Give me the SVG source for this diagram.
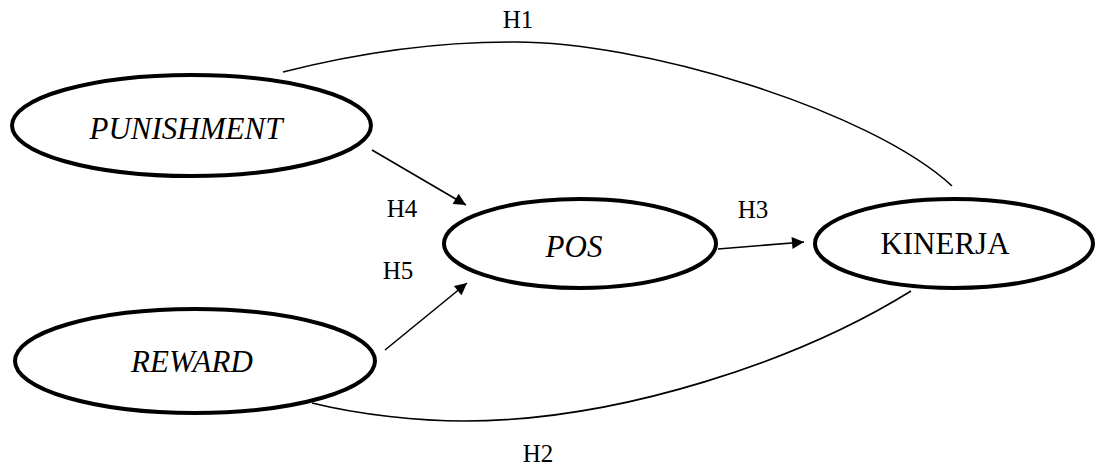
<svg xmlns="http://www.w3.org/2000/svg" width="1097" height="474" viewBox="0 0 1097 474">
  <style>
    .node { fill: #ffffff; stroke: #000000; stroke-width: 4; }
    text { font-family: "Times New Roman", Times, "Liberation Serif", Tinos, "Noto Serif", "DejaVu Serif", serif; fill: #000000; text-anchor: middle; }
    .lbl { font-size: 31px; }
    .it { font-style: italic; }
    .hyp { font-size: 25px; }
    .edge { fill: none; stroke: #000000; stroke-width: 1.6; }
  </style>
  <defs>
    <marker id="arrow" viewBox="0 0 10 10" refX="10" refY="5" markerWidth="15" markerHeight="12" markerUnits="userSpaceOnUse" orient="auto">
      <path d="M0,0 L10,5 L0,10 Z" fill="#000000"/>
    </marker>
  </defs>
  <rect width="1097" height="474" fill="#ffffff"/>

  <!-- connectors -->
  <g id="connectors">
    <!-- H1: PUNISHMENT to KINERJA -->
    <path class="edge" d="M283,72 C350,55 430,42 510,42 C640,40 870,110 952,186"/>
    <!-- H2: REWARD to KINERJA -->
    <path class="edge" d="M312,403 C360,415 420,421 464,421 C620,421 800,360 911,291"/>
    <!-- H4: PUNISHMENT to POS -->
    <line class="edge" x1="372" y1="150" x2="466" y2="205" marker-end="url(#arrow)"/>
    <!-- H5: REWARD to POS -->
    <line class="edge" x1="385" y1="350" x2="467" y2="283" marker-end="url(#arrow)"/>
    <!-- H3: POS to KINERJA -->
    <line class="edge" x1="718" y1="249" x2="804" y2="242" marker-end="url(#arrow)"/>
  </g>

  <g id="connector-labels">
    <text class="hyp" x="518" y="28">H1</text>
    <text class="hyp" x="538" y="462">H2</text>
    <text class="hyp" x="753" y="218">H3</text>
    <text class="hyp" x="402" y="217">H4</text>
    <text class="hyp" x="398" y="279">H5</text>
  </g>

  <g id="punishment">
    <ellipse class="node" cx="191.5" cy="125.5" rx="179.5" ry="50.5"/>
    <text class="lbl it" x="186" y="139">PUNISHMENT</text>
  </g>

  <g id="reward">
    <ellipse class="node" cx="195" cy="361" rx="180" ry="52"/>
    <text class="lbl it" x="192" y="372">REWARD</text>
  </g>

  <g id="pos">
    <ellipse class="node" cx="580" cy="243.5" rx="136" ry="44.5"/>
    <text class="lbl it" x="574" y="257">POS</text>
  </g>

  <g id="kinerja">
    <ellipse class="node" cx="954" cy="243.5" rx="139" ry="44.5"/>
    <text class="lbl" x="945" y="254">KINERJA</text>
  </g>
</svg>
